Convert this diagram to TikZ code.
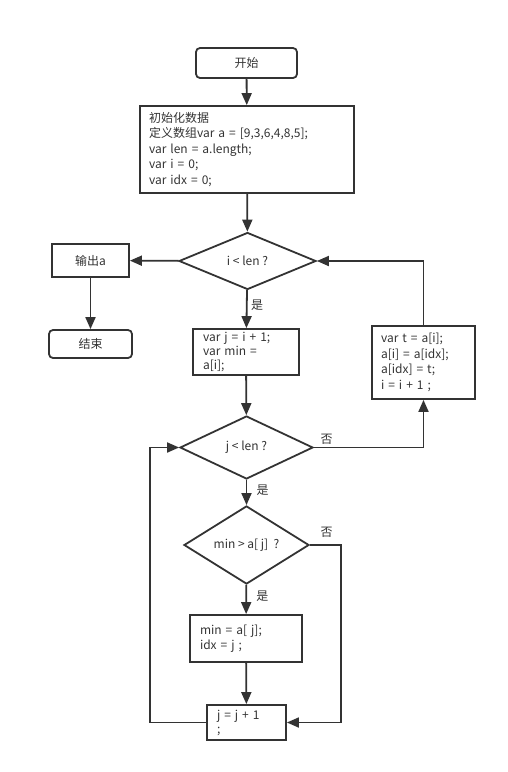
\documentclass[tikz,border=0pt]{standalone}
\usepackage{fontspec}
\setmainfont{Noto Sans CJK SC}
\newfontfamily\cjk{Noto Sans CJK SC}
\usetikzlibrary{shapes.geometric,arrows.meta}
\definecolor{ink}{HTML}{333333}
\begin{document}
\begin{tikzpicture}[x=1pt, y=-1pt, thick,
  line width=1.8pt, draw=ink, text=ink, font=\fontsize{12}{15.5}\selectfont,
  flow/.style={ink, line width=1.8pt, -{Triangle[length=12pt,width=10pt]}},
  term/.style={draw, rounded corners=4pt, inner sep=0pt},
  proc/.style={draw, inner sep=0pt, align=left},
  test/.style={draw, diamond, inner sep=0pt},
  yesno/.style={font=\cjk\fontsize{12}{13}\selectfont}]

  \useasboundingbox (0,0) rectangle (507,772);

  % -- Start and init --
  \node[term, minimum width=101pt, minimum height=30pt] (start) at (246.5,63) {\cjk 开始};
  \node[proc, minimum width=214pt, minimum height=87pt, text width=196pt] (init) at (247,149.5)
    {{\cjk 初始化数据}\\ {\cjk 定义数组}var a = [9,3,6,4,8,5];\\ var len = a.length;\\ var i = 0;\\ var idx = 0;};

  % -- Outer test --
  \node[test, minimum width=137pt, minimum height=57pt] (outer) at (247.5,261) {i < len ?};
  \node[proc, minimum width=77pt, minimum height=33pt] (show) at (90.5,260.5) {\cjk 输出a};
  \node[term, minimum width=83pt, minimum height=28pt] (stop) at (90.5,344) {\cjk 结束};

  % -- Outer body --
  \node[proc, minimum width=106pt, minimum height=46pt, text width=86pt,
    font=\fontsize{12}{14}\selectfont] (setj) at (246,352) {var j = i + 1;\\ var min =\\ a[i];};
  \node[proc, minimum width=103pt, minimum height=73pt, text width=85pt] (swap) at (423.5,362.5)
    {var t = a[i];\\ a[i] = a[idx];\\ a[idx] = t;\\ i = i + 1 ;};

  % -- Inner test --
  \node[test, minimum width=133pt, minimum height=63pt] (inner) at (246.5,447.5) {j < len ?};
  \node[test, minimum width=125pt, minimum height=60pt] (cmp) at (246.5,545) {min > a[ j]~ ?};
  \node[proc, minimum width=112pt, minimum height=47pt, text width=92pt] (keep) at (246,638.5)
    {min = a[ j];\\ idx = j ;};
  \node[proc, minimum width=79pt, minimum height=35pt, text width=59pt,
    font=\fontsize{12}{14}\selectfont] (incj) at (246.5,722.5) {j = j + 1\\ ;};

  % -- Connectors --
  \draw[flow] (start) -- (init);
  \draw[flow] (init) -- (outer);
  \draw[flow] (outer) -- (show);
  \draw[flow] (show) -- (stop);
  \draw[flow] (outer) -- node[yesno, right, pos=0.4] {是} (setj);
  \draw[flow] (setj) -- (inner);
  \draw[flow] (inner.east) -| node[yesno, pos=0.03, above right, xshift=-4pt, yshift=-1pt] {否} (swap.south);
  \draw[flow] (swap.north) |- (outer.east);
  \draw[flow] (inner) -- node[yesno, right, xshift=6pt, pos=0.4] {是} (cmp);
  \draw[flow] (cmp) -- node[yesno, right, xshift=6pt, pos=0.4] {是} (keep);
  \draw[flow] (keep) -- (incj);
  \draw[flow] (cmp.east) -- ++(31,0) node[yesno, above left, xshift=-4pt, yshift=3pt] {否} |- (incj.east);
  \draw[flow] (incj.west) -- ++(-56,0) |- (inner.west);

\end{tikzpicture}
\end{document}
